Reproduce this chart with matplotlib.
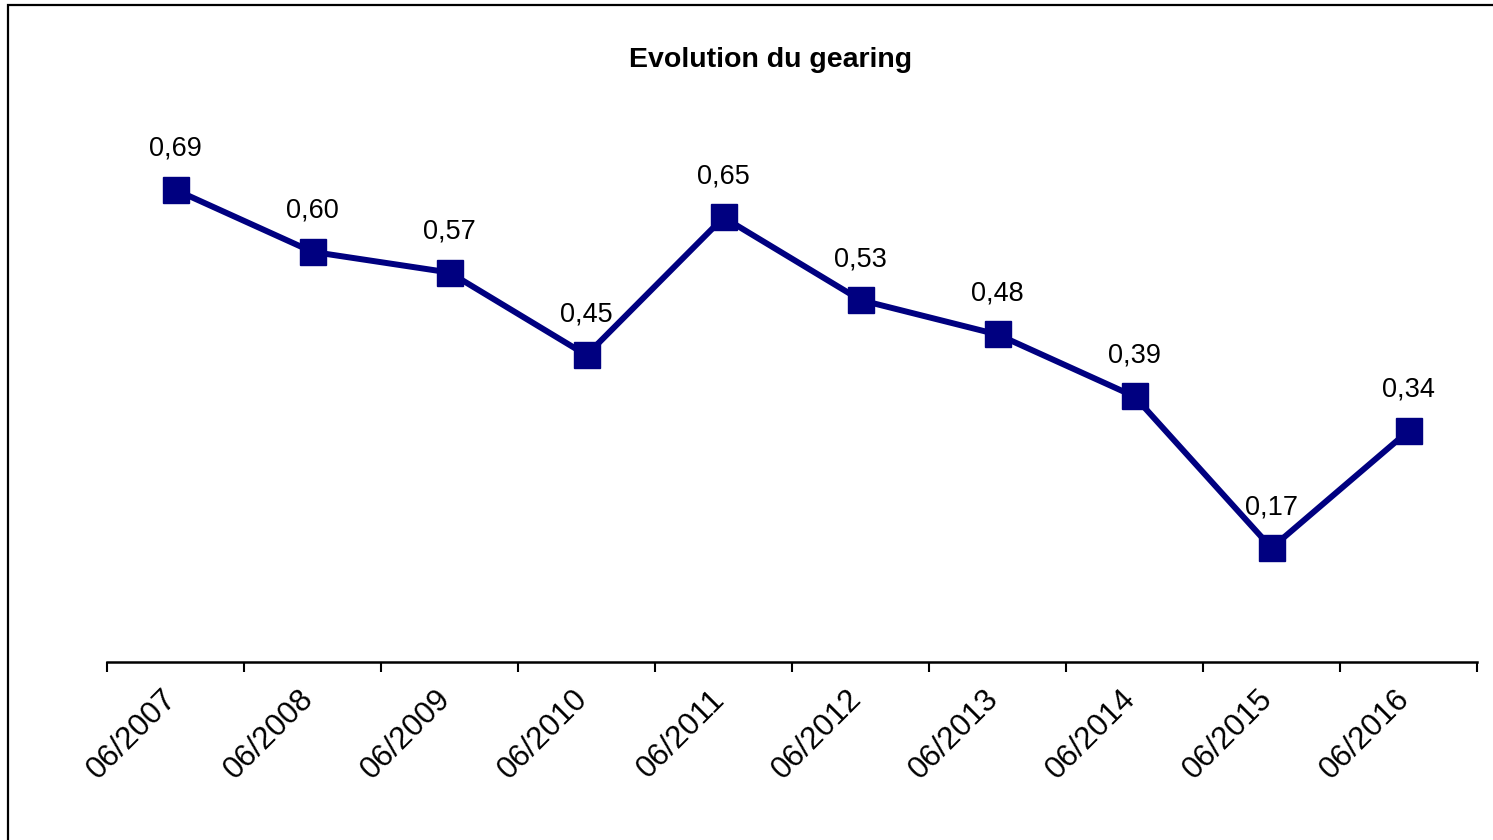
import matplotlib

matplotlib.use("Agg")

import matplotlib.pyplot as plt
import matplotlib.transforms as mtransforms
from matplotlib.patches import Rectangle

plt.rcParams["font.family"] = ["Liberation Sans", "DejaVu Sans"]

periodes = ["06/2007", "06/2008", "06/2009", "06/2010", "06/2011",
            "06/2012", "06/2013", "06/2014", "06/2015", "06/2016"]
gearing = [0.69, 0.60, 0.57, 0.45, 0.65, 0.53, 0.48, 0.39, 0.17, 0.34]

W, H = 1493, 840
fig = plt.figure(figsize=(W / 100, H / 100), dpi=100)

# cadre autour du graphique (coupé à droite et en bas comme dans l'original)
fig.patches.append(Rectangle((8 / W, -0.1), 1.2, 1.1 - 5 / H, transform=fig.transFigure,
                             fill=False, edgecolor="black", linewidth=1.6))

ax = fig.add_axes([107 / W, (H - 662) / H, (1477 - 107) / W, 551 / H])
x = list(range(len(periodes)))
ax.plot(x, gearing, color="#000080", linewidth=4.3, marker="s", markersize=18.5,
        markerfacecolor="#000080", markeredgecolor="#000080", solid_joinstyle="miter")

for xi, v in zip(x, gearing):
    ax.annotate(f"{v:.2f}".replace(".", ","), (xi, v), xytext=(0, 29.5), textcoords="offset points",
                ha="center", va="center", fontsize=19.5)

ax.set_xlim(-0.5, len(periodes) - 0.5)
ax.set_ylim(0.0045, 0.8045)
for s in ["top", "right", "left"]:
    ax.spines[s].set_visible(False)
ax.spines["bottom"].set_linewidth(1.8)
ax.set_yticks([])

ax.set_xticks(x)
ax.set_xticklabels(periodes, rotation=45, ha="right", fontsize=22.5)
ax.tick_params(axis="x", which="major", length=0, pad=16)
decalage = mtransforms.ScaledTranslation(7 / 100, 0, fig.dpi_scale_trans)
for lab in ax.get_xticklabels():
    lab.set_transform(lab.get_transform() + decalage)
ax.set_xticks([i - 0.5 for i in range(len(periodes) + 1)], minor=True)
ax.tick_params(axis="x", which="minor", length=7, width=1.5, direction="out")

fig.text(771 / W, 1 - 60 / H, "Evolution du gearing", ha="center", va="center",
         fontsize=20.5, fontweight="bold")

fig.savefig("out.png", dpi=100)
